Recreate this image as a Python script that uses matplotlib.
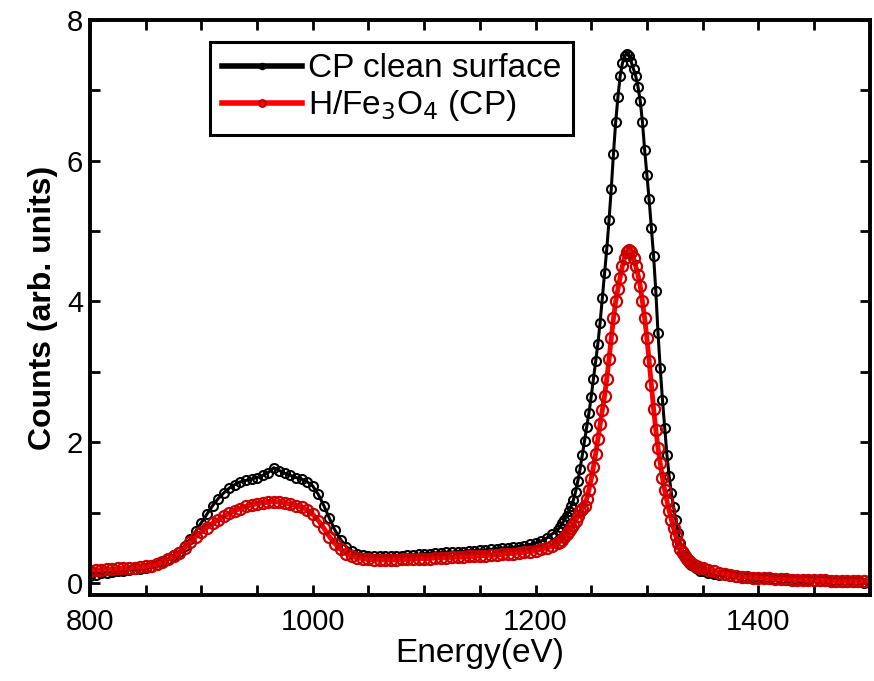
import numpy as np
import matplotlib

matplotlib.use("Agg")
import matplotlib.pyplot as plt
from matplotlib.ticker import MultipleLocator

plt.rcParams["font.family"] = ["Liberation Sans", "DejaVu Sans"]

# energy grid: coarse on the wings, finer across the big peak
e_low = np.arange(800, 1221, 5)
e_peak = np.arange(1222, 1351, 2)
e_tail = np.arange(1355, 1501, 5)

clean_low = [
    0.10, 0.12, 0.14, 0.15, 0.16, 0.17, 0.18, 0.19, 0.20, 0.20,
    0.21, 0.23, 0.26, 0.30, 0.35, 0.40, 0.45, 0.53, 0.63, 0.74,
    0.86, 0.98, 1.10, 1.20, 1.28, 1.35, 1.40, 1.44, 1.46, 1.48,
    1.50, 1.53, 1.57, 1.64, 1.60, 1.56, 1.53, 1.50, 1.48, 1.44,
    1.38, 1.26, 1.10, 0.92, 0.75, 0.62, 0.52, 0.46, 0.42, 0.40,
    0.39, 0.38, 0.38, 0.38, 0.38, 0.39, 0.39, 0.40, 0.40, 0.41,
    0.42, 0.42, 0.43, 0.43, 0.44, 0.44, 0.45, 0.45, 0.46, 0.46,
    0.47, 0.47, 0.48, 0.49, 0.50, 0.50, 0.51, 0.52, 0.53, 0.55,
    0.57, 0.60, 0.64, 0.70, 0.76,
]
clean_peak = [
    0.80, 0.85, 0.90, 0.96, 1.03, 1.10, 1.18, 1.30, 1.45, 1.62,
    1.82, 2.02, 2.22, 2.42, 2.65, 2.90, 3.15, 3.40, 3.70, 4.05,
    4.40, 4.75, 5.15, 5.60, 6.10, 6.55, 6.90, 7.20, 7.38, 7.48,
    7.52, 7.48, 7.40, 7.30, 7.20, 7.05, 6.85, 6.55, 6.15, 5.80,
    5.45, 5.05, 4.65, 4.15, 3.55, 3.05, 2.60, 2.20, 1.82, 1.52,
    1.28, 1.08, 0.90, 0.72, 0.57, 0.46, 0.39, 0.33, 0.29, 0.26,
    0.24, 0.22, 0.20, 0.18, 0.17,
]
clean_tail = [
    0.15, 0.13, 0.12, 0.11, 0.10, 0.09, 0.09, 0.08, 0.08, 0.08,
    0.07, 0.07, 0.06, 0.06, 0.05, 0.05, 0.04, 0.04, 0.04, 0.03,
    0.03, 0.03, 0.03, 0.02, 0.02, 0.02, 0.02, 0.02, 0.01, 0.01,
]

h_low = [
    0.18, 0.19, 0.19, 0.20, 0.20, 0.21, 0.21, 0.22, 0.22, 0.23,
    0.24, 0.25, 0.27, 0.30, 0.34, 0.38, 0.43, 0.50, 0.58, 0.66,
    0.73, 0.79, 0.85, 0.90, 0.95, 0.99, 1.03, 1.06, 1.09, 1.11,
    1.13, 1.14, 1.15, 1.16, 1.15, 1.14, 1.12, 1.10, 1.08, 1.04,
    0.98, 0.89, 0.78, 0.66, 0.56, 0.48, 0.42, 0.38, 0.36, 0.35,
    0.34, 0.33, 0.33, 0.33, 0.33, 0.33, 0.34, 0.34, 0.34, 0.35,
    0.35, 0.35, 0.36, 0.36, 0.36, 0.37, 0.37, 0.37, 0.38, 0.38,
    0.39, 0.39, 0.40, 0.40, 0.41, 0.42, 0.42, 0.43, 0.44, 0.45,
    0.46, 0.48, 0.50, 0.53, 0.57,
]
h_peak = [
    0.59, 0.62, 0.66, 0.70, 0.74, 0.78, 0.83, 0.89, 0.95, 1.02,
    1.06, 1.10, 1.20, 1.33, 1.48, 1.65, 1.84, 2.05, 2.26, 2.46,
    2.66, 2.90, 3.18, 3.48, 3.76, 4.00, 4.18, 4.34, 4.50, 4.62,
    4.70, 4.73, 4.70, 4.62, 4.50, 4.38, 4.22, 4.00, 3.76, 3.48,
    3.16, 2.82, 2.48, 2.18, 1.92, 1.70, 1.50, 1.32, 1.17, 1.03,
    0.90, 0.78, 0.67, 0.57, 0.49, 0.43, 0.38, 0.34, 0.31, 0.28,
    0.26, 0.25, 0.23, 0.22, 0.21,
]
h_tail = [
    0.19, 0.17, 0.15, 0.13, 0.12, 0.10, 0.09, 0.09, 0.08, 0.08,
    0.07, 0.07, 0.06, 0.06, 0.06, 0.05, 0.05, 0.05, 0.04, 0.04,
    0.04, 0.04, 0.03, 0.03, 0.03, 0.03, 0.03, 0.03, 0.03, 0.03,
]

energy = np.concatenate([e_low, e_peak, e_tail])
clean = np.concatenate([clean_low, clean_peak, clean_tail])
h_fe3o4 = np.concatenate([h_low, h_peak, h_tail])

fig = plt.figure(figsize=(8.74, 6.81), dpi=100)
ax = fig.add_axes([0.103, 0.126, 0.892, 0.845])

ax.plot(energy, clean, "-o", color="black", lw=2.2, ms=6.5, mfc="none",
        mew=1.5, label="CP clean surface")
ax.plot(energy, h_fe3o4, "-o", color="#ff0000", lw=3.5, ms=8, mfc="none",
        mec="#c80000", mew=1.6, label=r"H/Fe$_3$O$_4$ (CP)")

ax.set_xlim(800, 1500)
ax.set_ylim(-0.17, 8)
ax.xaxis.set_major_locator(MultipleLocator(200))
ax.xaxis.set_minor_locator(MultipleLocator(50))
ax.yaxis.set_major_locator(MultipleLocator(2))
ax.yaxis.set_minor_locator(MultipleLocator(1))
ax.tick_params(which="both", direction="in", top=True, right=True,
               length=7, width=2)
ax.tick_params(axis="x", labelsize=21, pad=9)
ax.tick_params(axis="y", labelsize=21, pad=5)
for sp in ax.spines.values():
    sp.set_linewidth(2.8)

ax.set_xlabel("Energy(eV)", fontsize=24, labelpad=2)
ax.set_ylabel("Counts (arb. units)", fontsize=23, fontweight="bold", labelpad=6)

leg = ax.legend(loc="upper left", bbox_to_anchor=(0.154, 0.962),
                borderaxespad=0, fontsize=24, numpoints=1, handlelength=2.4,
                handletextpad=0.2, labelspacing=0.12, borderpad=0.35,
                fancybox=False, framealpha=1, markerscale=0.6)
leg.get_frame().set_edgecolor("black")
leg.get_frame().set_linewidth(2.2)
for line in leg.get_lines():
    line.set_linewidth(4)

fig.savefig("out.png", dpi=100)
